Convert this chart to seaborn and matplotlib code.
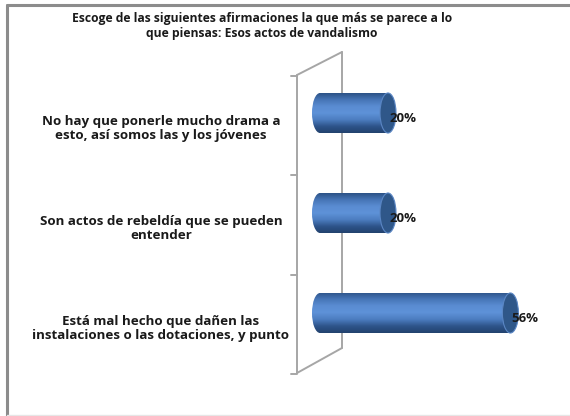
import numpy as np
import pandas as pd
import matplotlib
matplotlib.use("Agg")
import matplotlib.pyplot as plt
import seaborn as sns
from matplotlib.patches import Ellipse
from matplotlib.lines import Line2D
from matplotlib.colors import LinearSegmentedColormap
from matplotlib.transforms import ScaledTranslation

title = "Escoge de las siguientes afirmaciones la que más se parece a lo\nque piensas: Esos actos de vandalismo"
categories = [
    "No hay que ponerle mucho drama a\nesto, así somos las y los jóvenes",
    "Son actos de rebeldía que se pueden\nentender",
    "Está mal hecho que dañen las\ninstalaciones o las dotaciones, y punto",
]
values = [20, 20, 56]

df = pd.DataFrame({"categoria": categories, "valor": values})

sns.set_theme(style="white")
plt.rcParams["font.family"] = ["Open Sans", "DejaVu Sans"]

W, H = 570, 416
fig = plt.figure(figsize=(W / 100, H / 100), dpi=100)
fig.patch.set_facecolor("white")

# plot area in pixel terms
ax_l, ax_r, ax_t, ax_b = 297, 560, 52, 374
ax = fig.add_axes([ax_l / W, 1 - ax_b / H, (ax_r - ax_l) / W, (ax_b - ax_t) / H])
ax.set_facecolor("none")

sns.barplot(data=df, x="valor", y="categoria", orient="h", width=0.4,
            color="#4A7CC0", ax=ax, zorder=3)

px_per_unit = 3.4
x0_px = 320
xlim = ((ax_l - x0_px) / px_per_unit, (ax_r - x0_px) / px_per_unit)
ylim = (2.61, -0.61)

for s in ax.spines.values():
    s.set_visible(False)
ax.set_xticks([])

# cylinder shading
cmap = LinearSegmentedColormap.from_list(
    "cyl", ["#2C5286", "#4675B6", "#5A8CD2", "#5E92D8", "#4C7DC0", "#2E548A", "#22426E"])
grad = np.linspace(0, 1, 256).reshape(-1, 1)
cap_w = 16 / px_per_unit
for p in list(ax.patches):
    x, y, w, h = p.get_x(), p.get_y(), p.get_width(), p.get_height()
    p.set_facecolor("none")
    p.set_edgecolor("none")
    img = ax.imshow(grad, cmap=cmap, aspect="auto", extent=(x, x + w, y + h, y),
                    zorder=3, interpolation="bilinear")
    img.set_clip_path(plt.Rectangle((x, y), w, h, transform=ax.transData))
    # rounded starting end
    img2 = ax.imshow(grad, cmap=cmap, aspect="auto",
                     extent=(x - cap_w / 2, x, y + h, y), zorder=3,
                     interpolation="bilinear")
    img2.set_clip_path(Ellipse((x, y + h / 2), cap_w, h, transform=ax.transData))
    # end cap
    ax.add_patch(Ellipse((x + w, y + h / 2), cap_w, h, facecolor="#2F5789",
                         edgecolor="#5A86C4", lw=0.8, zorder=4))
ax.set_xlim(*xlim)
ax.set_ylim(*ylim)

# value labels
for i, v in enumerate(values):
    ax.text(v + 0.4, i + 0.06, f"{v}%", ha="left", va="center", fontsize=9.5,
            fontweight="bold", color="#1A1A1A", zorder=5)

# category labels, shifted to the front face
ax.set_yticks(range(len(categories)))
ax.set_yticklabels(categories)
ax.set_ylabel("")
ax.set_xlabel("")
ax.tick_params(axis="y", length=0, pad=(ax_l - 161) * 0.72)
shift = ScaledTranslation(0, -14 / 100, fig.dpi_scale_trans)
for lab in ax.get_yticklabels():
    lab.set_horizontalalignment("center")
    lab.set_multialignment("center")
    lab.set_fontsize(9.6)
    lab.set_fontweight("bold")
    lab.set_color("#1A1A1A")
    lab.set_linespacing(1.05)
    lab.set_transform(lab.get_transform() + shift)

# wall outline
def fx(px):
    return (px - ax_l) / (ax_r - ax_l)

def fy(py):
    return (ax_b - py) / (ax_b - ax_t)

wall = dict(color="#A6A6A6", lw=1.4, transform=ax.transAxes, clip_on=False, zorder=1)
ax.add_line(Line2D([fx(297), fx(297)], [fy(75), fy(373)], **wall))
ax.add_line(Line2D([fx(342), fx(342)], [fy(52), fy(348)], **wall))
ax.add_line(Line2D([fx(297), fx(342)], [fy(75), fy(52)], **wall))
ax.add_line(Line2D([fx(297), fx(342)], [fy(373), fy(348)], **wall))
for k in range(len(categories) + 1):
    py = 76 + 99.3 * k
    ax.add_line(Line2D([fx(291), fx(297)], [fy(py), fy(py)], **wall))

# title
fig.text(262 / W, 1 - 26 / H, title, ha="center", va="center", fontsize=8.7,
         fontweight="bold", color="#1A1A1A", linespacing=1.2)

# outer frame
frame = dict(color="#8C8C8C", lw=2.2, transform=fig.transFigure)
fig.add_artist(Line2D([7 / W, 1], [1 - 5 / H, 1 - 5 / H], **frame))
fig.add_artist(Line2D([7 / W, 7 / W], [0, 1 - 5 / H], **frame))
fig.add_artist(Line2D([7 / W, 1], [1.5 / H, 1.5 / H], color="#E6E6E6", lw=1,
                      transform=fig.transFigure))

fig.savefig("out.png", dpi=100)
